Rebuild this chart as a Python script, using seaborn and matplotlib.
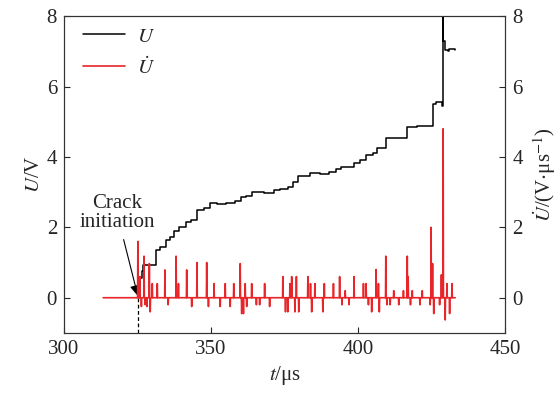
import numpy as np
import pandas as pd
import matplotlib
matplotlib.use('Agg')
import matplotlib.pyplot as plt
import seaborn as sns

sns.set_style('ticks')
plt.rcParams['font.family'] = ['Liberation Serif', 'DejaVu Serif']
plt.rcParams['mathtext.fontset'] = 'stix'
plt.rcParams['font.size'] = 15
plt.rcParams['xtick.direction'] = 'in'
plt.rcParams['ytick.direction'] = 'in'

# U (voltage) step curve
u_t = [325.2, 325.6, 326.5, 327.0, 331.3, 332.5, 334.5, 336.0, 337.5, 339.0,
       341.5, 343.0, 345.3, 347.5, 349.5, 352.0, 355.0, 358.0, 360.0, 362.0,
       364.0, 368.0, 371.5, 373.5, 376.0, 378.0, 379.5, 383.5, 387.0, 390.0,
       392.5, 394.0, 398.5, 400.5, 402.5, 405.0, 406.5, 409.5, 413.0, 416.5,
       420.0, 424.5, 425.3, 426.5, 428.5, 428.8, 429.0, 429.5, 430.5, 431.0,
       433.0]
u_val = [0.30, 0.55, 0.75, 0.94, 1.36, 1.45, 1.65, 1.72, 1.90, 2.00,
         2.15, 2.20, 2.50, 2.55, 2.68, 2.65, 2.68, 2.75, 2.85, 2.88,
         3.00, 2.98, 3.05, 3.10, 3.15, 3.30, 3.45, 3.55, 3.52, 3.58,
         3.65, 3.72, 3.82, 3.90, 4.05, 4.10, 4.25, 4.55, 4.55, 4.85,
         4.88, 4.88, 5.50, 5.55, 5.45, 8.00, 7.30, 7.05, 7.00, 7.08,
         7.05]

# dU/dt spikes (time, height); baseline is zero elsewhere
spike_t = [325.1, 325.8, 326.3, 327.2, 327.6, 328.2, 329.0, 329.3, 330.0, 331.7,
           334.3, 335.4, 338.1, 338.9, 341.7, 343.4, 345.2, 348.5, 349.1, 351.0,
           353.1, 354.8, 356.5, 357.7, 359.9, 360.4, 361.0, 361.6, 362.1, 363.8,
           365.4, 366.5, 368.2, 369.9, 374.4, 375.3, 376.1, 376.8, 377.4, 378.5,
           379.0, 379.8, 382.9, 383.8, 384.2, 385.3, 388.0, 388.5, 391.6, 393.7,
           394.5, 395.6, 396.9, 398.6, 401.8, 402.7, 403.5, 404.6, 406.1, 406.9,
           407.2, 409.4, 409.8, 410.9, 412.1, 413.8, 415.4, 416.7, 417.0, 417.8,
           418.4, 421.0, 421.8, 424.5, 424.8, 425.3, 425.7, 427.7, 428.3, 428.9,
           429.6, 430.2, 431.1, 431.9]
spike_h = [1.60, 0.60, -0.25, 1.18, -0.20, -0.25, 0.97, -0.40, 0.40, 0.40,
           0.79, -0.20, 1.18, 0.40, 0.79, -0.25, 1.00, 1.00, -0.25, 0.40,
           -0.25, 0.40, -0.25, 0.40, 0.97, -0.45, -0.45, 0.40, -0.25, 0.40,
           -0.20, -0.20, 0.40, -0.25, 0.60, -0.40, -0.40, 0.40, 0.60, -0.40,
           0.60, -0.40, 0.60, 0.40, -0.40, 0.40, -0.40, 0.40, 0.40, 0.60,
           -0.20, 0.20, -0.20, 0.60, 0.40, 0.40, -0.20, -0.40, 0.80, 0.40,
           -0.40, 1.18, -0.20, -0.20, 0.20, -0.20, 0.20, 1.18, 0.60, -0.20,
           0.20, -0.20, 0.20, -0.20, 2.00, 0.97, -0.45, -0.20, 0.65, 4.80,
           -0.63, 0.40, -0.45, 0.40]

t_start, t_end = 313.3, 433.0

# build the dU/dt series on a fine time grid
t_grid = np.round(np.arange(t_start, t_end + 0.05, 0.1), 1)
ud_val = np.zeros_like(t_grid)
for ts, h in zip(spike_t, spike_h):
    ud_val[np.argmin(np.abs(t_grid - ts))] = h

df_u = pd.DataFrame({'t': u_t, 'U': u_val})
df_ud = pd.DataFrame({'t': t_grid, 'Ud': ud_val})

fig = plt.figure(figsize=(5.57, 3.94), dpi=100)
ax = fig.add_axes([0.115, 0.155, 0.792, 0.804])
ax2 = ax.twinx()

red = '#e8262a'
sns.lineplot(data=df_u, x='t', y='U', ax=ax, color='black', linewidth=1.1,
             drawstyle='steps-post', label='$U$', zorder=3)
sns.lineplot(data=df_ud, x='t', y='Ud', ax=ax2, color=red, linewidth=1.2,
             label=r'$\dot{U}$', legend=False)

ax.set_xlim(300, 450)
ax.set_ylim(-1, 8)
ax2.set_ylim(-1, 8)
ax.set_xticks([300, 350, 400, 450])
ax.set_yticks([0, 2, 4, 6, 8])
ax2.set_yticks([0, 2, 4, 6, 8])
ax.set_xlabel('$t$/μs')
ax.set_ylabel('$U$/V', labelpad=2)
ax2.set_ylabel(r'$\dot{U}$/(V$\cdot$μs$^{-1}$)', labelpad=6)
for a in (ax, ax2):
    a.tick_params(length=4, width=0.8, pad=5)
    for s in a.spines.values():
        s.set_linewidth(0.8)
        s.set_color('#333333')

# crack initiation marker
crack_t = 325.1
ax.plot([crack_t, crack_t], [-1, 0], color='black', linestyle=(0, (3, 2)), linewidth=0.9)
ax.annotate('Crack\ninitiation', xy=(crack_t, 0.05), xytext=(318.0, 2.4),
            ha='center', va='center', fontsize=15, linespacing=1.0,
            arrowprops=dict(arrowstyle='-|>', color='black', lw=0.8,
                            shrinkA=3, shrinkB=0, mutation_scale=16))

# legend with both lines
h1, l1 = ax.get_legend_handles_labels()
h2, l2 = ax2.get_legend_handles_labels()
ax.legend(h1 + h2, l1 + l2, loc='upper left', frameon=False, fontsize=15,
          handlelength=2.0, handletextpad=0.55, borderaxespad=0.0,
          bbox_to_anchor=(0.025, 0.992))
if ax2.get_legend() is not None:
    ax2.get_legend().remove()

fig.savefig('out.png', dpi=100)
